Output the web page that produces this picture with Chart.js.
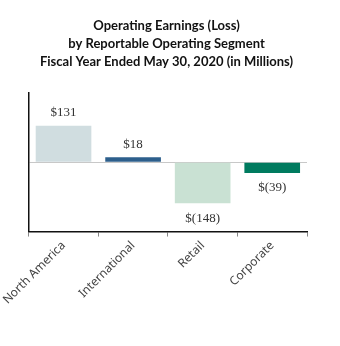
<!DOCTYPE html>
<html>
<head>
<meta charset="utf-8">
<script src="https://cdn.jsdelivr.net/npm/chart.js@4/dist/chart.umd.min.js"></script>
<style>
  html, body { margin: 0; padding: 0; background: #fff; }
  #wrap { width: 340px; height: 346px; }
</style>
</head>
<body>
<div id="wrap"><canvas id="segChart" width="340" height="346"></canvas></div>
<script>
// segment data (millions)
const segments = ['North America', 'International', 'Retail', 'Corporate'];
const earnings = [131, 18, -148, -39];
const valueLabels = ['$131', '$18', '$(148)', '$(39)'];
const barColors = ['#d0dde0', '#2d5f8c', '#c9e1d3', '#007b5f'];

// draw the $ labels above / below each bar
const valueLabelPlugin = {
    id: 'valueLabels',
    afterDatasetsDraw(chart) {
        const ctx = chart.ctx;
        const meta = chart.getDatasetMeta(0);
        ctx.save();
        ctx.font = '13px "Liberation Serif", serif';
        ctx.fillStyle = '#333';
        ctx.textAlign = 'center';
        ctx.textBaseline = 'middle';
        meta.data.forEach((bar, i) => {
            const v = earnings[i];
            const y = v >= 0 ? bar.y - 13 : bar.y + 15;
            ctx.fillText(valueLabels[i], bar.x, y);
        });
        ctx.restore();
    }
};

new Chart(document.getElementById('segChart').getContext('2d'), {
    type: 'bar',
    data: {
        labels: segments,
        datasets: [{
            data: earnings,
            backgroundColor: barColors,
            borderWidth: 0,
            barPercentage: 0.8,
            categoryPercentage: 1.0
        }]
    },
    options: {
        responsive: false,
        animation: false,
        layout: { padding: { left: 26, right: 33, top: 0, bottom: 37 } },
        plugins: {
            legend: { display: false },
            tooltip: { enabled: false },
            title: {
                display: true,
                text: ['Operating Earnings (Loss)', 'by Reportable Operating Segment', 'Fiscal Year Ended May 30, 2020 (in Millions)'],
                color: '#111',
                font: { family: 'Lato', size: 13, weight: 'bold', lineHeight: 1.38 },
                padding: { top: 17, bottom: 22 }
            }
        },
        scales: {
            x: {
                grid: { drawOnChartArea: false, drawTicks: true, tickLength: 5, tickColor: '#888' },
                border: { display: true, color: '#111', width: 1.5 },
                ticks: {
                    minRotation: 45, maxRotation: 45,
                    color: '#444',
                    font: { family: '"Noto Sans"', size: 12 },
                    padding: 2
                }
            },
            y: {
                min: -250,
                max: 250,
                ticks: { display: false, stepSize: 250 },
                grid: {
                    drawTicks: false,
                    color: (c) => c.tick && c.tick.value === 0 ? '#c8c8c8' : 'rgba(0,0,0,0)',
                    lineWidth: 1
                },
                border: { display: true, color: '#111', width: 1.5 }
            }
        }
    },
    plugins: [valueLabelPlugin]
});
</script>
</body>
</html>
